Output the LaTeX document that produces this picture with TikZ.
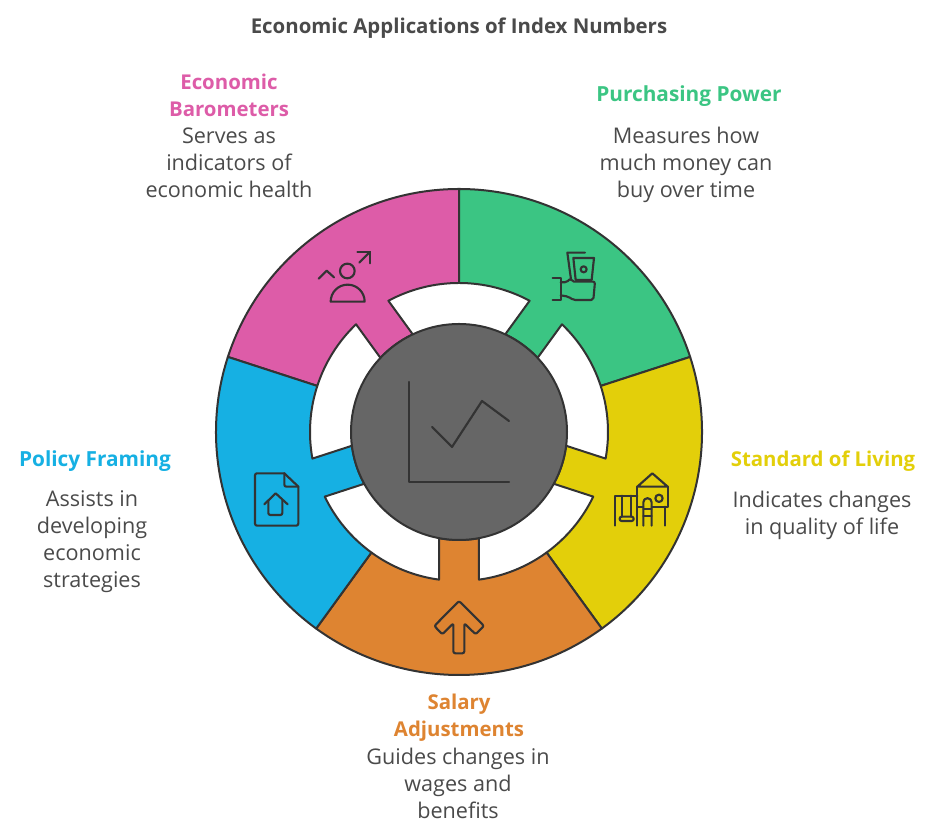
\documentclass[tikz,border=0pt]{standalone}
\usepackage{fontspec}
\setmainfont{Open Sans}
\definecolor{inkc}{HTML}{333333}
\definecolor{textc}{HTML}{4A4A4A}
\definecolor{pinkc}{HTML}{DD5CA8}
\definecolor{greenc}{HTML}{3BC583}
\definecolor{yellowc}{HTML}{E3CF0A}
\definecolor{orangec}{HTML}{DE8431}
\definecolor{bluec}{HTML}{16B0E3}
\definecolor{hubc}{HTML}{666666}
\newcommand{\petal}[2]{%
  \filldraw[petalline,fill=#2]
    ({#1-36}:243) arc[start angle={#1-36},end angle={#1+36},radius=243]
    -- ({#1+36}:149) arc[start angle={#1+36},end angle={#1+7.71},radius=149]
    -- ({#1+10.67}:108) arc[start angle={#1+10.67},end angle={#1-10.67},radius=108]
    -- ({#1-7.71}:149) arc[start angle={#1-7.71},end angle={#1-36},radius=149]
    -- cycle;}
\tikzset{
  petalline/.style={draw=inkc,line width=1.5pt,line join=round},
  icon/.style={draw=inkc,line width=1.6pt,line join=round,line cap=round},
  body/.style={text=textc,align=center,font=\fontsize{16.2}{20.25}\selectfont,inner sep=0pt},
  head/.style={align=center,font=\fontsize{15.3}{20.25}\selectfont\bfseries,inner sep=0pt},
  headwide/.style={align=center,font=\fontsize{15.6}{20.25}\selectfont\bfseries,inner sep=0pt},
  zoomed/.style={shift={#1},scale=0.3333}
}
\begin{document}
\begin{tikzpicture}[x=0.75pt,y=0.75pt]
\useasboundingbox (0,0) rectangle (932,837);
\begin{scope}[shift={(459,405)}]
  \petal{126}{pinkc}
  \petal{54}{greenc}
  \petal{-18}{yellowc}
  \petal{-90}{orangec}
  \petal{198}{bluec}
  \node[circle,draw=inkc,fill=hubc,line width=1.5pt,minimum size=162pt,inner sep=0pt] (hub) at (0,0) {};
\end{scope}
\begin{scope}[shift={(0,837)},yscale=-1]
  % hub chart
  \draw[icon] (409,382) -- (409,482) -- (509,482);
  \draw[icon] (432,427) -- (452,447) -- (482,401) -- (509,421);
  % purchasing power
  \begin{scope}[zoomed={(540,240)}]
    \draw[icon] (135,38) -- (82,38) -- (93,118);
    \draw[icon] (100,54) -- (162,54) -- (155,120) -- (107,120) -- cycle;
    \draw[icon] (131,88) circle (9);
    \draw[icon] (38,115) -- (62,115) -- (62,180) -- (38,180);
    \draw[icon,rounded corners=1.5pt] (62,127) -- (80,127) -- (92,115) -- (96,125) -- (165,125) -- (160,180) -- (100,180) -- (85,170) -- (62,166);
  \end{scope}
  % barometers
  \begin{scope}[zoomed={(310,240)}]
    \draw[icon] (26,116) -- (50,92) -- (72,112);
    \draw[icon] (112,93) circle (22);
    \draw[icon] (62,185) arc[start angle=180,end angle=360,radius=51] -- cycle;
    \draw[icon] (142,36) -- (180,36) -- (180,70);
    \draw[icon] (180,36) -- (148,68);
  \end{scope}
  % standard of living
  \begin{scope}[zoomed={(605,465)}]
    \draw[icon] (97,65) -- (142,25) -- (188,65) -- cycle;
    \draw[icon] (97,65) -- (97,182);
    \draw[icon] (188,65) -- (188,125) -- (140,125);
    \draw[icon] (180,125) -- (180,182);
    \draw[icon] (97,125) -- (115,125);
    \draw[icon] (162,100) circle (11);
    \draw[icon] (115,182) -- (115,112) arc[start angle=180,end angle=360,radius=12.5] -- (140,182);
    \draw[icon] (115,132) -- (140,132) (115,154) -- (140,154);
    \draw[icon] (30,182) -- (30,92) -- (97,92);
    \draw[icon] (52,92) -- (52,155) (78,92) -- (78,155);
    \draw[icon,rounded corners=1.5pt] (44,155) rectangle (86,168);
  \end{scope}
  % policy framing
  \begin{scope}[zoomed={(245,465)}]
    \draw[icon,rounded corners=1.5pt] (118,25) -- (30,25) -- (30,182) -- (160,182) -- (160,65);
    \draw[icon] (118,25) -- (160,65);
    \draw[icon,rounded corners=1.5pt] (118,25) -- (118,65) -- (160,65);
    \draw[icon] (58,118) -- (92,85) -- (128,118);
    \draw[icon,rounded corners=1.5pt] (70,105) -- (70,150) -- (112,150) -- (112,105);
  \end{scope}
  % salary
  \begin{scope}[zoomed={(425,595)}]
    \draw[icon,rounded corners=1.5pt] (102,18) -- (177,93) -- (152,118) -- (118,85) -- (118,175) -- (85,175) -- (85,85) -- (52,118) -- (28,93) -- cycle;
  \end{scope}
\end{scope}
\node[text=textc,font=\fontsize{15.3}{20.25}\selectfont\bfseries,inner sep=0pt] (title) at (459,809) {Economic Applications of Index Numbers};
\node[head,text=pinkc] (h1) at (229,742) {Economic\\Barometers};
\node[body] (b1) at (229,674) {Serves as\\indicators of\\economic health};
\node[headwide,text=greenc] (h2) at (689,741) {Purchasing Power};
\node[body] (b2) at (686,672.5) {Measures how\\much money can\\buy over time};
\node[head,text=yellowc] (h3) at (823,376) {Standard of Living};
\node[body] (b3) at (822,322) {Indicates changes\\in quality of life};
\node[head,text=orangec] (h4) at (459,119.5) {Salary\\Adjustments};
\node[body] (b4) at (458,54) {Guides changes in\\wages and\\benefits};
\node[headwide,text=bluec] (h5) at (95,376) {Policy Framing};
\node[body] (b5) at (92,295) {Assists in\\developing\\economic\\strategies};
\end{tikzpicture}
\end{document}
